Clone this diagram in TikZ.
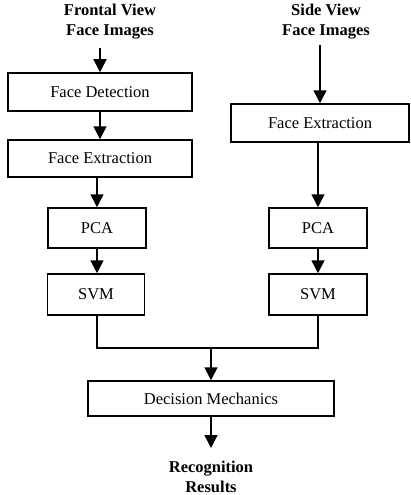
\documentclass[tikz,border=0pt]{standalone}
\usepackage{fontspec}
\setmainfont{Liberation Serif}
\usetikzlibrary{arrows.meta}
\begin{document}
\begin{tikzpicture}[x=1pt,y=-1pt,
  box/.style={draw,line width=1.5pt,rectangle,inner sep=0pt,font=\fontsize{16.5}{20}\selectfont},
  lbl/.style={align=center,inner sep=0pt,font=\bfseries\fontsize{16.5}{20}\selectfont},
  arr/.style={line width=1.5pt,-{Triangle[length=13pt,width=13pt]}},
  ln/.style={line width=1.5pt}]
\useasboundingbox (0,0) rectangle (410,495);
\node[lbl] (fv) at (110,22) {Frontal View\\Face Images};
\node[lbl] (sv) at (326,22) {Side View\\Face Images};
\node[box,minimum width=184pt,minimum height=38pt] (fd) at (100,92) {Face Detection};
\node[box,minimum width=184pt,minimum height=37pt] (fel) at (100,158.5) {Face Extraction};
\node[box,minimum width=178pt,minimum height=38pt] (fer) at (320,123) {Face Extraction};
\node[box,minimum width=98pt,minimum height=40pt] (pcal) at (97,228) {PCA};
\node[box,minimum width=98pt,minimum height=40pt] (pcar) at (318,228) {PCA};
\node[box,minimum width=97pt,minimum height=41pt] (svml) at (96,294.5) {SVM};
\node[box,minimum width=98pt,minimum height=41pt] (svmr) at (318,294.5) {SVM};
\node[box,minimum width=246pt,minimum height=35pt] (dec) at (211,398.5) {Decision Mechanics};
\node[lbl] (rr) at (211,477) {Recognition\\Results};
\coordinate (fvs) at (100,48);
\coordinate (svs) at (320,45);
\coordinate (rre) at (211,448);
\coordinate (j) at (211,348);
\draw[arr] (fvs) -- (fd.north);
\draw[arr] (svs) -- (fer.north);
\draw[arr] (fd) -- (fel);
\draw[arr] (fel.south -| pcal) -- (pcal.north);
\draw[arr] (fer.south -| pcar) -- (pcar.north);
\draw[arr] (pcal) -- (svml.north -| pcal);
\draw[arr] (pcar) -- (svmr);
\draw[ln] (svml.south -| pcal) |- (j);
\draw[ln] (svmr.south) |- (j);
\draw[arr] (j) -- (dec.north);
\draw[arr] (dec.south) -- (rre);
\end{tikzpicture}
\end{document}
